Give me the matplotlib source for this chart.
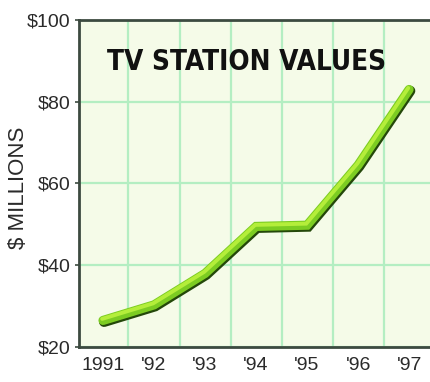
import matplotlib
matplotlib.use("Agg")
import matplotlib.pyplot as plt
import matplotlib.patheffects as pe

# data ($ millions)
years = ["1991", "'92", "'93", "'94", "'95", "'96", "'97"]
values = [26.5, 30.3, 38.0, 49.5, 49.8, 64.5, 83.0]
yticks = [20, 40, 60, 80, 100]
ytick_labels = ["$20", "$40", "$60", "$80", "$100"]

plt.rcParams['font.family'] = ['Liberation Sans', 'DejaVu Sans']

fig = plt.figure(figsize=(4.30, 3.82), dpi=100)
ax = fig.add_axes([79/430, 35/382, 351/430, 327/382])
ax.set_facecolor('#f5fbe8')

x = list(range(len(years)))
ax.plot(x, values, color='#7ccc22', lw=7.4, solid_capstyle='round',
        solid_joinstyle='miter', zorder=3,
        path_effects=[pe.Stroke(offset=(0.8, -1.0), linewidth=7.4, foreground='#24480a'),
                      pe.Stroke(linewidth=6.6, foreground='#7ccc22'),
                      pe.Stroke(offset=(-0.6, 1.1), linewidth=2.8, foreground='#b4ee3a')])

ax.set_xlim(-0.47, 6.41)
ax.set_ylim(20, 100)
ax.set_xticks(x)
ax.set_xticklabels(years)
ax.set_xticks([i + 0.5 for i in x[:-1]], minor=True)
ax.set_yticks(yticks)
ax.set_yticklabels(ytick_labels)

ax.grid(False)
ax.xaxis.grid(True, which='minor', color='#b4eec2', lw=1.6)
ax.yaxis.grid(True, which='major', color='#b4eec2', lw=1.6)
ax.set_axisbelow(True)

ax.tick_params(axis='x', which='both', length=0, pad=7, labelsize=14, labelcolor='#2a2a2a')
ax.tick_params(axis='y', length=3, width=1.2, color='#3c4a40', pad=3,
               labelsize=14, labelcolor='#2a2a2a')

for s in ['left', 'bottom', 'top']:
    ax.spines[s].set_color('#3c4a40')
    ax.spines[s].set_linewidth(2)
ax.spines['right'].set_visible(False)

ax.set_ylabel('$ MILLIONS', fontsize=16, color='#2a2a2a')
ax.yaxis.set_label_coords(-0.142, 0.486)

ax.text(0.476, 0.872, 'TV STATION VALUES', transform=ax.transAxes,
        ha='center', va='center', fontsize=20, fontweight='bold',
        fontstretch='condensed', family='DejaVu Sans', color='#111111')

fig.savefig('out.png', dpi=100)
